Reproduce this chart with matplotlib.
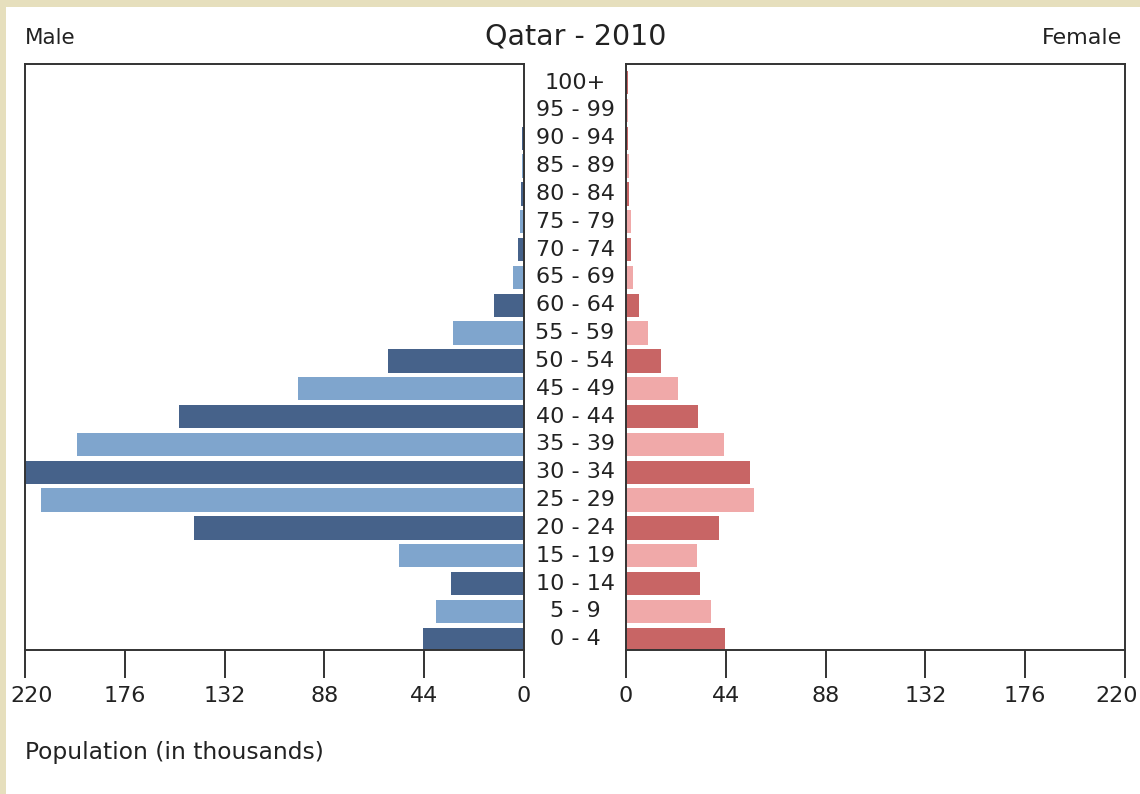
import matplotlib
matplotlib.use("Agg")
import matplotlib.pyplot as plt
import matplotlib.transforms as mtransforms
from matplotlib.patches import Rectangle

age_groups = ["0 - 4", "5 - 9", "10 - 14", "15 - 19", "20 - 24", "25 - 29", "30 - 34",
              "35 - 39", "40 - 44", "45 - 49", "50 - 54", "55 - 59", "60 - 64", "65 - 69",
              "70 - 74", "75 - 79", "80 - 84", "85 - 89", "90 - 94", "95 - 99", "100+"]
male = [44.5, 38.8, 32.2, 55.1, 145.5, 213.0, 221.0, 197.0, 152.0, 99.6, 60.0, 31.3,
        13.2, 4.9, 2.6, 1.8, 1.3, 0.9, 0.9, 0.6, 0.2]
female = [43.6, 37.5, 32.6, 31.3, 41.0, 56.4, 54.7, 43.2, 31.7, 22.9, 15.4, 9.7,
          5.7, 3.1, 2.2, 2.0, 1.5, 1.2, 1.1, 0.8, 0.7]
ticks = [0, 44, 88, 132, 176, 220]
title = "Qatar - 2010"

male_colors = ["#46628a", "#7fa5cd"]
female_colors = ["#c86565", "#f0a9a9"]
spine_col = "#333333"
txt_col = "#222222"

W, H = 1140, 794
fig = plt.figure(figsize=(W / 100, H / 100), dpi=100)
fig.patch.set_facecolor("#e6dfbd")
bg = Rectangle((6 / W, 0), 1 - 6 / W, 1 - 7 / H, transform=fig.transFigure,
               facecolor="white", edgecolor="none", zorder=-10)
fig.patches.append(bg)

y0 = 1 - 650 / H
h = (650 - 64) / H
axL = fig.add_axes([25 / W, y0, 499 / W, h])
axR = fig.add_axes([626 / W, y0, 499 / W, h])

ypos = list(range(len(age_groups)))
cm = [male_colors[i % 2] for i in ypos]
cf = [female_colors[i % 2] for i in ypos]
axL.barh(ypos, male, height=0.84, color=cm, edgecolor="none", zorder=2)
axR.barh(ypos, female, height=0.84, color=cf, edgecolor="none", zorder=2)

for ax in (axL, axR):
    ax.set_xlim(0, 220)
    ax.set_ylim(-0.385, 20.67)
    ax.set_yticks([])
    ax.set_xticks(ticks)
    ax.set_xticklabels([str(t) for t in ticks])
    ax.tick_params(axis="x", direction="out", length=20, width=1.4, color=spine_col,
                   labelsize=16, pad=6, labelcolor=txt_col)
    for s in ax.spines.values():
        s.set_color(spine_col)
        s.set_linewidth(1.4)
        s.set_zorder(3)
    ax.set_facecolor("white")
axL.invert_xaxis()

# keep the outermost tick labels inside the image, as in the reference
fig.canvas.draw()
for lbl in axL.get_xticklabels():
    if lbl.get_text() == "220":
        lbl.set_transform(lbl.get_transform() +
                          mtransforms.ScaledTranslation(7 / 100, 0, fig.dpi_scale_trans))
for lbl in axR.get_xticklabels():
    if lbl.get_text() == "220":
        lbl.set_transform(lbl.get_transform() +
                          mtransforms.ScaledTranslation(-8 / 100, 0, fig.dpi_scale_trans))

tr = mtransforms.blended_transform_factory(fig.transFigure, axL.transData)
for i, lab in enumerate(age_groups):
    fig.text(575 / W, i, lab, transform=tr, ha="center", va="center", fontsize=16,
             color=txt_col)

fig.text(576 / W, 1 - 36 / H, title, ha="center", va="center", fontsize=20.5, color=txt_col)
fig.text(25 / W, 1 - 38 / H, "Male", ha="left", va="center", fontsize=15.5, color=txt_col)
fig.text(1122 / W, 1 - 38 / H, "Female", ha="right", va="center", fontsize=16, color=txt_col)
fig.text(25 / W, 1 - 753 / H, "Population (in thousands)", ha="left", va="center",
         fontsize=16.8, color=txt_col)

fig.savefig("out.png", dpi=100, facecolor=fig.get_facecolor())
